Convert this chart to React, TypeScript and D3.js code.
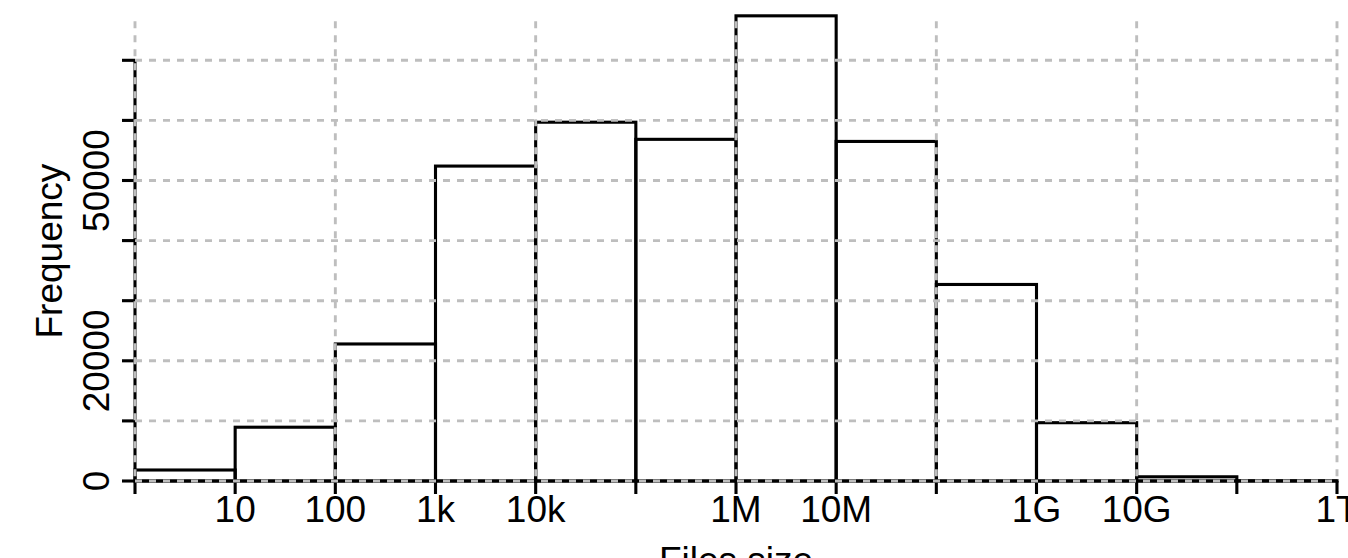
import React, { useEffect, useRef } from 'react';
import * as d3 from 'd3';

// bin edges are powers of ten, from 10^0 to 10^12 bytes
const binExponents = [0, 1, 2, 3, 4, 5, 6, 7, 8, 9, 10, 11];
const binCounts = [1830, 8950, 22800, 52400, 59700, 56850, 77400, 56500, 32700, 9700, 700, 40];

// x axis ticks and their labels (blank where the original leaves them out)
const xTickExponents = [0, 1, 2, 3, 4, 5, 6, 7, 8, 9, 10, 11, 12];
const xTickLabels = ['', '10', '100', '1k', '10k', '', '1M', '10M', '', '1G', '10G', '', '1T'];
const xGridExponents = [0, 2, 4, 6, 8, 10, 12];

const yTicks = [0, 10000, 20000, 30000, 40000, 50000, 60000, 70000];
const yTickLabels = ['0', '', '20000', '', '', '50000', '', ''];
const yGridValues = [0, 10000, 20000, 30000, 40000, 50000, 60000, 70000];
const gridTopValue = 76500;

const App: React.FC = () => {
  const svgRef = useRef<SVGSVGElement>(null);

  useEffect(() => {
    if (!svgRef.current) return;
    const width = 1348;
    const height = 558;
    const font = '"Liberation Sans", Arial, Helvetica, sans-serif';
    const lw = 3.1;

    const svg = d3.select(svgRef.current);
    svg.selectAll('*').remove();
    svg.attr('width', width).attr('height', height);

    const x = d3.scaleLog().domain([1, 1e12]).range([135, 1337]);
    const y = d3.scaleLinear().domain([0, 70000]).range([481, 60.3]);

    // histogram bars, outline only
    svg.append('g')
      .selectAll('rect')
      .data(binExponents)
      .enter()
      .append('rect')
      .attr('x', d => x(10 ** d))
      .attr('y', (d, i) => y(binCounts[i]))
      .attr('width', d => x(10 ** (d + 1)) - x(10 ** d))
      .attr('height', (d, i) => y(0) - y(binCounts[i]))
      .attr('fill', 'none')
      .attr('stroke', '#000')
      .attr('stroke-width', lw);

    // y axis
    const yAxis = svg.append('g').attr('transform', 'translate(135,0)');
    yAxis.append('line')
      .attr('x1', 0).attr('x2', 0)
      .attr('y1', y(0)).attr('y2', y(70000))
      .attr('stroke', '#000').attr('stroke-width', lw);
    yAxis.selectAll('.tick')
      .data(yTicks)
      .enter()
      .append('line')
      .attr('x1', -13).attr('x2', 0)
      .attr('y1', d => y(d)).attr('y2', d => y(d))
      .attr('stroke', '#000').attr('stroke-width', lw);
    yAxis.selectAll('.lab')
      .data(yTicks)
      .enter()
      .append('text')
      .attr('transform', d => `translate(-26,${y(d)}) rotate(-90)`)
      .attr('text-anchor', 'middle')
      .style('font-family', font)
      .style('font-size', '37px')
      .text((d, i) => yTickLabels[i]);

    // x axis
    const xAxis = svg.append('g').attr('transform', `translate(0,${y(0)})`);
    xAxis.append('line')
      .attr('x1', x(1)).attr('x2', x(1e12))
      .attr('y1', 0).attr('y2', 0)
      .attr('stroke', '#000').attr('stroke-width', lw);
    xAxis.selectAll('.tick')
      .data(xTickExponents)
      .enter()
      .append('line')
      .attr('x1', d => x(10 ** d)).attr('x2', d => x(10 ** d))
      .attr('y1', 0).attr('y2', 13)
      .attr('stroke', '#000').attr('stroke-width', lw);
    xAxis.selectAll('.lab')
      .data(xTickExponents)
      .enter()
      .append('text')
      .attr('x', d => x(10 ** d))
      .attr('y', 41)
      .attr('text-anchor', 'middle')
      .style('font-family', font)
      .style('font-size', '37px')
      .text((d, i) => xTickLabels[i]);

    // dashed grid drawn over the bars
    const grid = svg.append('g')
      .attr('stroke', '#bebebe')
      .attr('stroke-width', 2.9)
      .attr('stroke-dasharray', '7,7');
    grid.selectAll('.h')
      .data(yGridValues)
      .enter()
      .append('line')
      .attr('x1', x(1)).attr('x2', x(1e12))
      .attr('y1', d => y(d)).attr('y2', d => y(d));
    grid.selectAll('.v')
      .data(xGridExponents)
      .enter()
      .append('line')
      .attr('x1', d => x(10 ** d)).attr('x2', d => x(10 ** d))
      .attr('y1', y(gridTopValue)).attr('y2', y(0));

    // axis titles
    svg.append('text')
      .attr('x', (x(1) + x(1e12)) / 2)
      .attr('y', 573)
      .attr('text-anchor', 'middle')
      .style('font-family', font)
      .style('font-size', '37px')
      .text('Files size');

    svg.append('text')
      .attr('transform', `translate(62,${(y(0) + y(gridTopValue)) / 2}) rotate(-90)`)
      .attr('text-anchor', 'middle')
      .style('font-family', font)
      .style('font-size', '37px')
      .text('Frequency');
  }, []);

  return (
    <svg
      ref={svgRef}
      style={{ position: 'absolute', left: 0, top: 0, background: '#fff' }}
    ></svg>
  );
};

export default App;
